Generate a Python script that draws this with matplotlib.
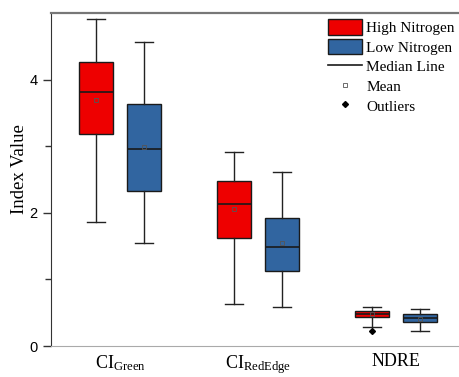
import numpy as np
import matplotlib
matplotlib.use("Agg")
import matplotlib.pyplot as plt
from matplotlib.patches import Patch
from matplotlib.lines import Line2D

plt.rcParams['mathtext.fontset'] = 'custom'
plt.rcParams['mathtext.rm'] = 'Liberation Serif'
plt.rcParams['mathtext.it'] = 'Liberation Serif:italic'

indices = ['CI$_{\\mathrm{Green}}$', 'CI$_{\\mathrm{RedEdge}}$', 'NDRE']
groups = ['High Nitrogen', 'Low Nitrogen']

# box statistics per index: lower whisker, Q1, median, Q3, upper whisker, mean
high_whislo = [1.86, 0.63, 0.29]
high_q1 = [3.18, 1.62, 0.43]
high_med = [3.82, 2.13, 0.48]
high_q3 = [4.27, 2.48, 0.53]
high_whishi = [4.91, 2.92, 0.59]
high_mean = [3.70, 2.05, 0.48]
high_fliers = [[], [], [0.23]]

low_whislo = [1.55, 0.58, 0.22]
low_q1 = [2.32, 1.12, 0.355]
low_med = [2.96, 1.48, 0.42]
low_q3 = [3.63, 1.92, 0.48]
low_whishi = [4.56, 2.61, 0.55]
low_mean = [2.99, 1.54, 0.41]
low_fliers = [[], [], []]

red = '#EE0000'
blue = '#3165A0'


def make_stats(lo, q1, med, q3, hi, mean, fl):
    return [dict(whislo=lo[i], q1=q1[i], med=med[i], q3=q3[i], whishi=hi[i],
                 mean=mean[i], fliers=fl[i]) for i in range(len(lo))]


fig = plt.figure(figsize=(4.59, 3.77), dpi=100)
ax = fig.add_axes([51 / 459, 31 / 377, 414 / 459, 333 / 377])

pos = np.arange(1, len(indices) + 1)
offset = 0.175
width = 0.25

for stats, color, shift in [
        (make_stats(high_whislo, high_q1, high_med, high_q3, high_whishi, high_mean, high_fliers), red, -offset),
        (make_stats(low_whislo, low_q1, low_med, low_q3, low_whishi, low_mean, low_fliers), blue, offset)]:
    ax.bxp(stats, positions=pos + shift, widths=width, capwidths=0.13,
           patch_artist=True, showmeans=True, manage_ticks=False,
           boxprops=dict(facecolor=color, edgecolor='#1a1a1a', linewidth=1.0),
           medianprops=dict(color='#1a1a1a', linewidth=1.2),
           whiskerprops=dict(color='#222222', linewidth=1.0),
           capprops=dict(color='#222222', linewidth=1.0),
           meanprops=dict(marker='s', markersize=3, markerfacecolor='none',
                          markeredgecolor='#555555', markeredgewidth=0.6),
           flierprops=dict(marker='D', markersize=3, markerfacecolor='black',
                           markeredgecolor='black'))

ax.set_xlim(0.5, 3.5)
ax.set_ylim(0, 5)
ax.set_yticks([0, 2, 4])
ax.set_yticks([1, 3], minor=True)
ax.set_yticklabels(['0', '2', '4'], fontfamily='Liberation Sans', fontsize=10.5)
ax.tick_params(axis='y', which='major', direction='out', length=6, width=1, color='#333333')
ax.tick_params(axis='y', which='minor', direction='out', length=4, width=1, color='#333333')
ax.set_xticks(pos)
ax.set_xticklabels(indices, fontfamily='Liberation Serif', fontsize=13)
ax.tick_params(axis='x', length=0, pad=5)
ax.set_ylabel('Index Value', fontfamily='Liberation Serif', fontsize=13.5)
ax.yaxis.set_label_coords(-0.056, 0.53)

ax.spines['left'].set_color('#333333')
ax.spines['bottom'].set_color('#aaaaaa')
ax.spines['top'].set_color('#777777')
ax.spines['top'].set_linewidth(1.6)
ax.spines['right'].set_color('#777777')

handles = [
    Patch(facecolor=red, edgecolor='#1a1a1a', label=groups[0]),
    Patch(facecolor=blue, edgecolor='#1a1a1a', label=groups[1]),
    Line2D([], [], color='#1a1a1a', linewidth=1.2, label='Median Line'),
    Line2D([], [], linestyle='none', marker='s', markersize=3, markerfacecolor='none',
           markeredgecolor='#555555', markeredgewidth=0.6, label='Mean'),
    Line2D([], [], linestyle='none', marker='D', markersize=3, color='black', label='Outliers'),
]
ax.legend(handles=handles, loc='upper left', bbox_to_anchor=(0.655, 1.0), frameon=False,
          prop=dict(family='Liberation Serif', size=11), handlelength=2.2, handleheight=1.2,
          labelspacing=0.24, handletextpad=0.3, borderaxespad=0.0)

fig.savefig('out.png', dpi=100)
